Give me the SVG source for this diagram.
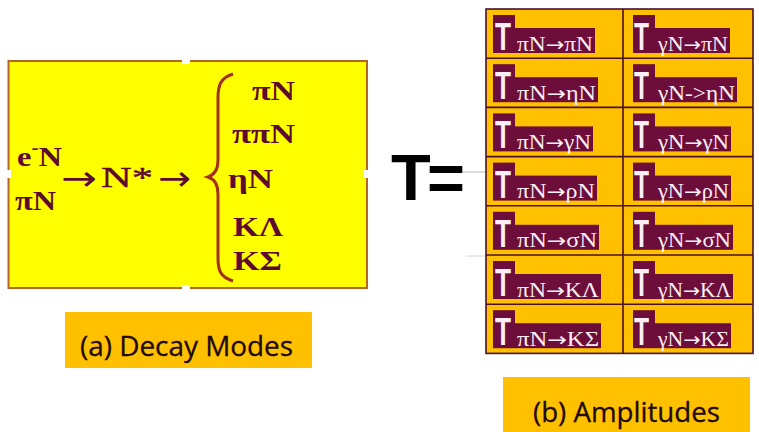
<svg xmlns="http://www.w3.org/2000/svg" width="759" height="432" viewBox="0 0 759 432">
<style>
.phys{font-family:"Liberation Serif","Times New Roman",serif;font-weight:bold;font-size:28px;fill:#5c0b2e}
.mid{font-family:"Liberation Serif","Times New Roman",serif;font-size:29px;fill:#5c0b2e;stroke:#5c0b2e;stroke-width:0.4}
.arr{font-family:"DejaVu Sans",sans-serif;font-size:34px;fill:#5c0b2e}
.cell{fill:#ffc000}
.bg{fill:#6d0e3a}
.tt{font-family:"Liberation Sans",Arial,sans-serif;font-weight:bold;font-size:39px;fill:#fbeef4}
.sub{font-family:"Liberation Serif","Times New Roman",serif;font-size:20px;fill:#fbeef4}
.sa{font-family:"DejaVu Sans",sans-serif;font-size:19px}
.cap{fill:#ffc000}
.captxt{font-family:"Open Sans","Noto Sans",sans-serif;font-size:28px;fill:#1e0a0a;stroke:#1e0a0a;stroke-width:0.3}
.grid{stroke:#4a1030;stroke-width:1.6;fill:none}
</style>

<g id="decay-box">
  <rect x="8.5" y="61" width="358.5" height="227" fill="#ffff00" stroke="#b4652a" stroke-width="2"/>
  <rect x="182" y="58" width="8" height="6" fill="#ffffff"/>
  <rect x="182" y="285" width="8" height="6" fill="#ffffff"/>
  <rect x="5" y="170" width="6" height="8" fill="#ffffff"/>
  <rect x="364" y="170" width="6" height="8" fill="#ffffff"/>
  <text class="phys" x="17" y="166" textLength="45" lengthAdjust="spacingAndGlyphs">e<tspan font-size="18" dy="-12">-</tspan><tspan dy="12">N</tspan></text>
  <text class="phys" x="15" y="210" textLength="41" lengthAdjust="spacingAndGlyphs">πN</text>
  <text class="arr" x="61" y="190" textLength="36" lengthAdjust="spacingAndGlyphs">→</text>
  <text class="mid" x="101" y="187" textLength="52" lengthAdjust="spacingAndGlyphs">N*</text>
  <text class="arr" x="158" y="190" textLength="33" lengthAdjust="spacingAndGlyphs">→</text>
  <path d="M233,74 C220,78 218,86 218,98 L218,160 C218,170 214,175 208,177 C214,179 218,184 218,194 L218,258 C218,270 220,277 233,281" fill="none" stroke="#a3301c" stroke-width="3"/>
  <text class="phys" x="252" y="100" textLength="43" lengthAdjust="spacingAndGlyphs">πN</text>
  <text class="phys" x="232" y="143" textLength="63" lengthAdjust="spacingAndGlyphs">ππN</text>
  <text class="phys" x="228" y="188" textLength="45" lengthAdjust="spacingAndGlyphs">ηN</text>
  <text class="phys" x="233" y="236" textLength="50" lengthAdjust="spacingAndGlyphs">KΛ</text>
  <text class="phys" x="233" y="270" textLength="49" lengthAdjust="spacingAndGlyphs">KΣ</text>
</g>

<g id="caption-a">
  <rect class="cap" x="65" y="312" width="247" height="56"/>
  <text class="captxt" x="80" y="356" textLength="213" lengthAdjust="spacingAndGlyphs">(a) Decay Modes</text>
</g>

<g id="t-equals">
  <text x="391" y="200" font-family="'Liberation Sans',Arial,sans-serif" font-weight="bold" font-size="65" fill="#000000">T</text>
  <text x="427" y="200" font-family="'Liberation Sans',Arial,sans-serif" font-weight="bold" font-size="65" fill="#000000">=</text>
</g>

<g id="connectors">
  <line x1="463" y1="172" x2="486" y2="172" stroke="#b8b8b8" stroke-width="1"/>
  <line x1="466" y1="256" x2="486" y2="256" stroke="#d4d4e0" stroke-width="1"/>
</g>

<g id="amplitude-grid">
  <rect class="cell" x="486" y="9" width="267" height="344.4"/>
  <g id="r1c1"><rect class="bg" x="493" y="15" width="22" height="38"/><rect class="bg" x="515" y="28" width="80" height="25"/><text class="tt" x="495" y="50" textLength="16" lengthAdjust="spacingAndGlyphs">T</text><text class="sub" x="517" y="50.5" textLength="76" lengthAdjust="spacingAndGlyphs">πN<tspan class="sa">→</tspan>πN</text></g>
  <g id="r1c2"><rect class="bg" x="633" y="15" width="22" height="38"/><rect class="bg" x="655" y="28" width="75" height="25"/><text class="tt" x="634" y="50" textLength="15" lengthAdjust="spacingAndGlyphs">T</text><text class="sub" x="658" y="50.5" textLength="70" lengthAdjust="spacingAndGlyphs">γN<tspan class="sa">→</tspan>πN</text></g>

  <g id="r2c1"><rect class="bg" x="493" y="64.2" width="22" height="38"/><rect class="bg" x="515" y="77.2" width="83" height="25"/><text class="tt" x="495" y="99.2" textLength="16" lengthAdjust="spacingAndGlyphs">T</text><text class="sub" x="517" y="99.7" textLength="79" lengthAdjust="spacingAndGlyphs">πN<tspan class="sa">→</tspan>ηN</text></g>
  <g id="r2c2"><rect class="bg" x="633" y="64.2" width="22" height="38"/><rect class="bg" x="655" y="77.2" width="82" height="25"/><text class="tt" x="634" y="99.2" textLength="15" lengthAdjust="spacingAndGlyphs">T</text><text class="sub" x="658" y="99.7" textLength="77" lengthAdjust="spacingAndGlyphs">γN-&gt;ηN</text></g>

  <g id="r3c1"><rect class="bg" x="493" y="113.4" width="22" height="38"/><rect class="bg" x="515" y="126.4" width="78" height="25"/><text class="tt" x="495" y="148.4" textLength="16" lengthAdjust="spacingAndGlyphs">T</text><text class="sub" x="517" y="148.9" textLength="74" lengthAdjust="spacingAndGlyphs">πN<tspan class="sa">→</tspan>γN</text></g>
  <g id="r3c2"><rect class="bg" x="633" y="113.4" width="22" height="38"/><rect class="bg" x="655" y="126.4" width="76" height="25"/><text class="tt" x="634" y="148.4" textLength="15" lengthAdjust="spacingAndGlyphs">T</text><text class="sub" x="658" y="148.9" textLength="71" lengthAdjust="spacingAndGlyphs">γN<tspan class="sa">→</tspan>γN</text></g>

  <g id="r4c1"><rect class="bg" x="493" y="162.6" width="22" height="38"/><rect class="bg" x="515" y="175.6" width="82" height="25"/><text class="tt" x="495" y="197.6" textLength="16" lengthAdjust="spacingAndGlyphs">T</text><text class="sub" x="517" y="198.1" textLength="78" lengthAdjust="spacingAndGlyphs">πN<tspan class="sa">→</tspan>ρN</text></g>
  <g id="r4c2"><rect class="bg" x="633" y="162.6" width="22" height="38"/><rect class="bg" x="655" y="175.6" width="76" height="25"/><text class="tt" x="634" y="197.6" textLength="15" lengthAdjust="spacingAndGlyphs">T</text><text class="sub" x="658" y="198.1" textLength="71" lengthAdjust="spacingAndGlyphs">γN<tspan class="sa">→</tspan>ρN</text></g>

  <g id="r5c1"><rect class="bg" x="493" y="211.8" width="22" height="38"/><rect class="bg" x="515" y="224.8" width="84" height="25"/><text class="tt" x="495" y="246.8" textLength="16" lengthAdjust="spacingAndGlyphs">T</text><text class="sub" x="517" y="247.3" textLength="80" lengthAdjust="spacingAndGlyphs">πN<tspan class="sa">→</tspan>σN</text></g>
  <g id="r5c2"><rect class="bg" x="633" y="211.8" width="22" height="38"/><rect class="bg" x="655" y="224.8" width="78" height="25"/><text class="tt" x="634" y="246.8" textLength="15" lengthAdjust="spacingAndGlyphs">T</text><text class="sub" x="658" y="247.3" textLength="73" lengthAdjust="spacingAndGlyphs">γN<tspan class="sa">→</tspan>σN</text></g>

  <g id="r6c1"><rect class="bg" x="493" y="261" width="22" height="38"/><rect class="bg" x="515" y="274" width="86" height="25"/><text class="tt" x="495" y="296" textLength="16" lengthAdjust="spacingAndGlyphs">T</text><text class="sub" x="517" y="296.5" textLength="82" lengthAdjust="spacingAndGlyphs">πN<tspan class="sa">→</tspan>KΛ</text></g>
  <g id="r6c2"><rect class="bg" x="633" y="261" width="22" height="38"/><rect class="bg" x="655" y="274" width="78" height="25"/><text class="tt" x="634" y="296" textLength="15" lengthAdjust="spacingAndGlyphs">T</text><text class="sub" x="658" y="296.5" textLength="73" lengthAdjust="spacingAndGlyphs">γN<tspan class="sa">→</tspan>KΛ</text></g>

  <g id="r7c1"><rect class="bg" x="493" y="310.2" width="22" height="38"/><rect class="bg" x="515" y="323.2" width="86" height="25"/><text class="tt" x="495" y="345.2" textLength="16" lengthAdjust="spacingAndGlyphs">T</text><text class="sub" x="517" y="345.7" textLength="82" lengthAdjust="spacingAndGlyphs">πN<tspan class="sa">→</tspan>KΣ</text></g>
  <g id="r7c2"><rect class="bg" x="633" y="310.2" width="22" height="38"/><rect class="bg" x="655" y="323.2" width="76" height="25"/><text class="tt" x="634" y="345.2" textLength="15" lengthAdjust="spacingAndGlyphs">T</text><text class="sub" x="658" y="345.7" textLength="71" lengthAdjust="spacingAndGlyphs">γN<tspan class="sa">→</tspan>KΣ</text></g>

  <rect class="grid" x="486" y="9" width="267" height="344.4"/>
  <path class="grid" d="M623,9 V353.4 M486,58.2 H753 M486,107.4 H753 M486,156.6 H753 M486,205.8 H753 M486,255 H753 M486,304.2 H753"/>
</g>

<g id="caption-b">
  <rect class="cap" x="503" y="377" width="247" height="55"/>
  <text class="captxt" x="533" y="422" textLength="187" lengthAdjust="spacingAndGlyphs">(b) Amplitudes</text>
</g>
</svg>
